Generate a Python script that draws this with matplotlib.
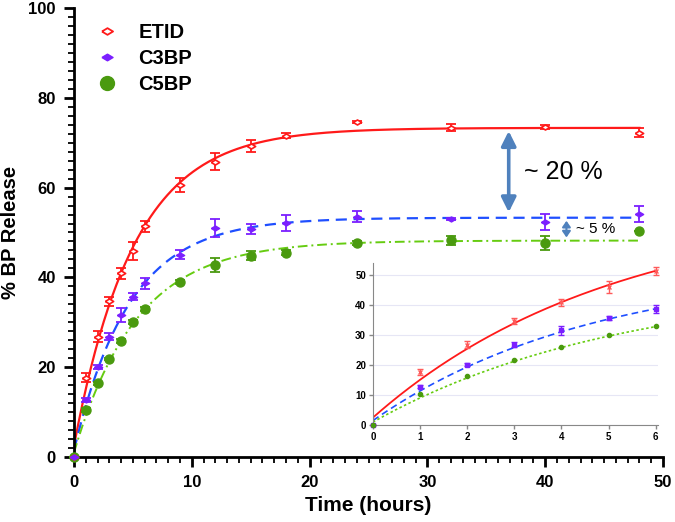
import numpy as np
import matplotlib
matplotlib.use("Agg")
import matplotlib.pyplot as plt
from matplotlib.ticker import MultipleLocator
from matplotlib.lines import Line2D

plt.rcParams['font.family'] = ['Liberation Sans', 'DejaVu Sans']

# sampling times (hours)
tempo = [0, 1, 2, 3, 4, 5, 6, 9, 12, 15, 18, 24, 32, 40, 48]

etid = [0, 17.6, 26.8, 34.7, 40.9, 45.9, 51.4, 60.6, 65.8, 69.3, 71.6, 74.6, 73.3, 73.5, 72.2]
etid_err = [0, 1.0, 1.2, 1.0, 1.2, 2.0, 1.2, 1.6, 1.8, 1.3, 0.6, 0.3, 0.8, 0.4, 1.0]

c3bp = [0, 12.7, 20.1, 26.8, 31.6, 35.7, 38.7, 45.0, 51.0, 50.8, 52.2, 53.5, 53.0, 52.4, 54.2]
c3bp_err = [0, 0.5, 0.5, 0.8, 1.5, 0.8, 1.2, 1.0, 2.0, 1.2, 1.8, 1.2, 0.3, 1.8, 1.8]

c5bp = [0, 10.5, 16.4, 21.8, 25.9, 30.1, 32.9, 39.0, 42.8, 44.8, 45.5, 47.7, 48.3, 47.7, 50.4]
c5bp_err = [0, 0.5, 0.4, 0.3, 0.4, 0.4, 0.4, 0.4, 1.5, 1.0, 0.5, 0.5, 1.0, 1.5, 0]

# one-phase association fit parameters: y0, plateau, k
fit_etid = (2.5, 73.3, 0.196)
fit_c3bp = (1.5, 53.3, 0.212)
fit_c5bp = (1.0, 48.2, 0.187)

def curva(t, p):
    y0, plat, k = p
    return y0 + (plat - y0) * (1 - np.exp(-k * t))

vermelho = "#ff1a1a"
roxo = "#7b1fff"
azul = "#1f4fff"
verde_esc = "#4a9a0f"
verde = "#66cc11"
seta = "#4f81bd"

# losango achatado
losango = [(-1, 0), (0, 0.6), (1, 0), (0, -0.6), (-1, 0)]

fig = plt.figure(figsize=(6.75, 5.22), dpi=100)
ax = fig.add_axes([0.1096, 0.1245, 0.8727, 0.8602])

tt = np.linspace(0, 48, 400)
ax.plot(tt, curva(tt, fit_etid), color=vermelho, lw=1.6, ls="-")
ax.plot(tt, curva(tt, fit_c3bp), color=azul, lw=1.6, ls=(0, (5, 3)))
ax.plot(tt, curva(tt, fit_c5bp), color=verde, lw=1.4, ls=(0, (5, 2, 1, 2)))

ax.errorbar(tempo, etid, yerr=etid_err, fmt="none", ecolor=vermelho, elinewidth=1.3,
            capsize=3.5, capthick=1.3, clip_on=False, zorder=4)
ax.plot(tempo, etid, ls="none", marker=losango, ms=6, mfc="white", mec=vermelho, mew=1.2,
        clip_on=False, zorder=5)
ax.errorbar(tempo, c3bp, yerr=c3bp_err, fmt="none", ecolor=roxo, elinewidth=1.3,
            capsize=3.5, capthick=1.3, clip_on=False, zorder=4)
ax.plot(tempo, c3bp, ls="none", marker=losango, ms=6, mfc=roxo, mec=roxo,
        clip_on=False, zorder=5)
ax.errorbar(tempo, c5bp, yerr=c5bp_err, fmt="o", ms=6.5, mfc=verde_esc, mec=verde_esc,
            ecolor=verde_esc, elinewidth=1.3, capsize=3.5, capthick=1.3, clip_on=False, zorder=4)

ax.set_xlim(0, 50)
ax.set_ylim(0, 100)
ax.spines["top"].set_visible(False)
ax.spines["right"].set_visible(False)
ax.spines["left"].set_linewidth(2)
ax.spines["bottom"].set_linewidth(2)
ax.xaxis.set_major_locator(MultipleLocator(10))
ax.xaxis.set_minor_locator(MultipleLocator(1))
ax.yaxis.set_major_locator(MultipleLocator(20))
ax.yaxis.set_minor_locator(MultipleLocator(2))
ax.tick_params(which="major", direction="out", length=7, width=2, labelsize=12, pad=6)
ax.tick_params(which="minor", direction="out", length=4, width=1.3)
for lab in ax.get_xticklabels() + ax.get_yticklabels():
    lab.set_fontweight("bold")
ax.set_xlabel("Time (hours)", fontsize=15, fontweight="bold", labelpad=4)
ax.set_ylabel("% BP Release", fontsize=14.5, fontweight="bold")
ax.yaxis.set_label_coords(-0.092, 0.5)

# legenda
hs = [Line2D([], [], ls="none", marker=losango, ms=8, mfc="white", mec=vermelho, mew=1.3),
      Line2D([], [], ls="none", marker=losango, ms=8, mfc=roxo, mec=roxo),
      Line2D([], [], ls="none", marker="o", ms=10, mfc=verde_esc, mec=verde_esc)]
leg = ax.legend(hs, ["ETID", "C3BP", "C5BP"], loc="upper left", bbox_to_anchor=(0.0, 1.006),
                frameon=False, prop={"weight": "bold", "size": 14.5}, handletextpad=0.8,
                labelspacing=0.34, handlelength=1.5)

# setas
ax.annotate("", xy=(36.9, 72.6), xytext=(36.9, 54.5),
            arrowprops=dict(arrowstyle="<|-|>", color=seta, lw=2.6, mutation_scale=22,
                            shrinkA=0, shrinkB=0))
ax.text(38.2, 63.5, "~ 20 %", fontsize=18, va="center", ha="left")
ax.annotate("", xy=(41.8, 52.6), xytext=(41.8, 48.9),
            arrowprops=dict(arrowstyle="<|-|>,head_length=0.5,head_width=0.35",
                            color=seta, lw=1.5, mutation_scale=7, shrinkA=0, shrinkB=0))
ax.text(42.6, 50.7, "~ 5 %", fontsize=11, va="center", ha="left")

# inset
ins = fig.add_axes([0.5526, 0.1858, 0.4222, 0.31])
t6 = np.linspace(0, 6, 200)
ins.plot(t6, curva(t6, fit_etid), color=vermelho, lw=1.3, ls="-")
ins.plot(t6, curva(t6, fit_c3bp), color=azul, lw=1.2, ls=(0, (4, 2.5)))
ins.plot(t6, curva(t6, fit_c5bp), color=verde, lw=1.2, ls=(0, (1.5, 1.5)))
n = 7
ins.errorbar(tempo[:n], etid[:n], yerr=etid_err[:n], fmt="x", ms=2.5, color="#ff5a5a",
             elinewidth=1, capsize=2.5, capthick=1, clip_on=False, zorder=4)
ins.errorbar(tempo[:n], c3bp[:n], yerr=c3bp_err[:n], fmt="s", ms=2.5, color=roxo,
             elinewidth=1, capsize=2.5, capthick=1, clip_on=False, zorder=4)
ins.errorbar(tempo[:n], c5bp[:n], yerr=c5bp_err[:n], fmt="o", ms=3, color=verde_esc,
             elinewidth=0.8, capsize=0, clip_on=False, zorder=4)
ins.set_xlim(0, 6.05)
ins.set_ylim(0, 54)
ins.set_yticks([0, 10, 20, 30, 40, 50])
ins.set_xticks(range(0, 7))
ins.grid(axis="y", color="#e6e6f5", lw=0.8)
ins.spines["top"].set_visible(False)
ins.spines["right"].set_visible(False)
ins.spines["left"].set_color("#888888")
ins.spines["bottom"].set_color("#888888")
ins.tick_params(direction="out", length=3, width=1, color="#888888", labelsize=7, pad=2)
for lab in ins.get_xticklabels() + ins.get_yticklabels():
    lab.set_fontweight("bold")

fig.savefig("out.png", dpi=100)
